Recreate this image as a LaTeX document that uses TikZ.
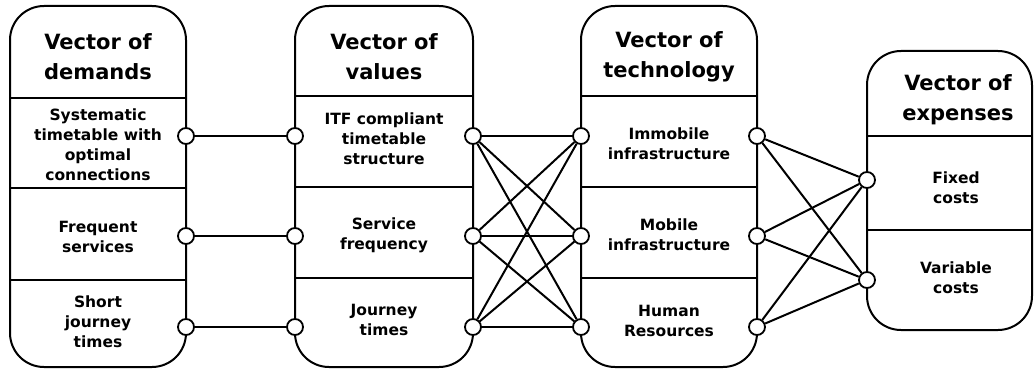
\documentclass[tikz,border=0pt]{standalone}
\usepackage{fontspec}
\setmainfont{DejaVu Sans}
\begin{document}
\begin{tikzpicture}[x=1pt,y=-1pt,
  vbox/.style={draw,line width=2pt,rounded corners=34pt,inner sep=0pt},
  divider/.style={line width=2pt},
  port/.style={circle,draw,fill=white,line width=1.8pt,minimum size=16pt,inner sep=0pt},
  link/.style={line width=2pt},
  ttl/.style={align=center,font=\fontsize{21}{30}\selectfont\bfseries},
  itm/.style={align=center,font=\fontsize{15.5}{20}\selectfont\bfseries}]
\useasboundingbox (0,0) rectangle (1034,369);
% boxes
\node[vbox,minimum width=176pt,minimum height=361pt] (B1) at (98,186.5) {};
\node[vbox,minimum width=178pt,minimum height=361pt] (B2) at (384,186.5) {};
\node[vbox,minimum width=176pt,minimum height=361pt] (B3) at (669,186.5) {};
\node[vbox,minimum width=165pt,minimum height=279pt] (B4) at (949.5,190.5) {};
% dividers
\draw[divider] (10,98) -- (186,98);
\draw[divider] (10,188) -- (186,188);
\draw[divider] (10,280) -- (186,280);
\draw[divider] (295,96) -- (473,96);
\draw[divider] (295,187) -- (473,187);
\draw[divider] (295,278) -- (473,278);
\draw[divider] (581,96) -- (757,96);
\draw[divider] (581,187) -- (757,187);
\draw[divider] (581,278) -- (757,278);
\draw[divider] (867,136) -- (1032,136);
\draw[divider] (867,230) -- (1032,230);
% texts
\node[ttl] (t1) at (98,57) {Vector of\\demands};
\node[itm] (d1t) at (98,145) {Systematic\\timetable with\\optimal\\connections};
\node[itm] (d2t) at (98,237) {Frequent\\services};
\node[itm] (d3t) at (98,322) {Short\\journey\\times};
\node[ttl] (t2) at (384,57) {Vector of\\values};
\node[itm] (v1t) at (384,139) {ITF compliant\\timetable\\structure};
\node[itm] (v2t) at (384,235) {Service\\frequency};
\node[itm] (v3t) at (384,320) {Journey\\times};
\node[ttl] (t3) at (669,57) {Vector of\\technology};
\node[itm] (g1t) at (669,144) {Immobile\\infrastructure};
\node[itm] (g2t) at (669,235) {Mobile\\infrastructure};
\node[itm] (g3t) at (669,321) {Human\\Resources};
\node[ttl] (t4) at (958,100) {Vector of\\expenses};
\node[itm] (e1t) at (956,188) {Fixed\\costs};
\node[itm] (e2t) at (956,278) {Variable\\costs};
% ports
\node[port] (d1) at (186,136) {};
\node[port] (d2) at (186,236) {};
\node[port] (d3) at (186,327) {};
\node[port] (vl1) at (295,136) {};
\node[port] (vl2) at (295,236) {};
\node[port] (vl3) at (295,327) {};
\node[port] (vr1) at (473,136) {};
\node[port] (vr2) at (473,236) {};
\node[port] (vr3) at (473,327) {};
\node[port] (gl1) at (581,136) {};
\node[port] (gl2) at (581,236) {};
\node[port] (gl3) at (581,327) {};
\node[port] (gr1) at (757,136) {};
\node[port] (gr2) at (757,236) {};
\node[port] (gr3) at (757,327) {};
\node[port] (e1) at (867,180) {};
\node[port] (e2) at (867,280) {};
% connectors
\draw[link] (d1) -- (vl1);
\draw[link] (d2) -- (vl2);
\draw[link] (d3) -- (vl3);
\foreach \a in {1,2,3}{\foreach \b in {1,2,3}{\draw[link] (vr\a) -- (gl\b);}}
\foreach \a in {1,2,3}{\foreach \b in {1,2}{\draw[link] (gr\a) -- (e\b);}}
\end{tikzpicture}
\end{document}
